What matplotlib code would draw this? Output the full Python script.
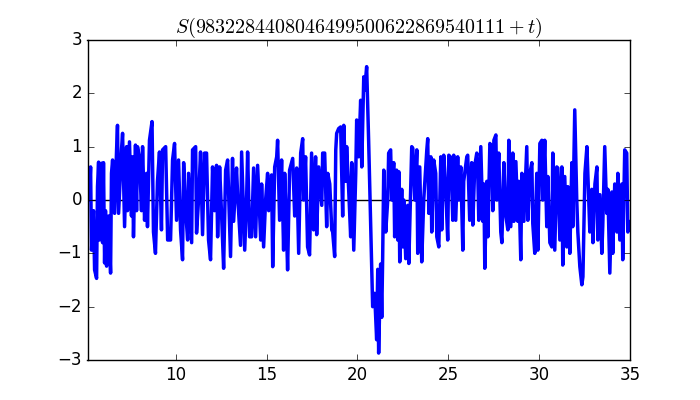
import matplotlib
matplotlib.use("Agg")
import matplotlib.pyplot as plt

plt.style.use("classic")

title = r"$S(9832284408046499500622869540111+t)$"

# values (t, S)
t_vals = [5.2, 5.26, 5.32, 5.37, 5.48, 5.54, 5.65, 5.7, 5.76, 5.81, 5.92, 5.98, 6.03, 6.09, 6.14, 6.2,
          6.31, 6.42, 6.47, 6.53, 6.64, 6.75, 6.8, 6.86, 7.02, 7.08, 7.19, 7.3, 7.35, 7.46, 7.57, 7.63,
          7.68, 7.79, 7.85, 7.9, 8.01, 8.12, 8.18, 8.29, 8.4, 8.45, 8.56, 8.7, 8.78, 8.89, 9.0, 9.11,
          9.22, 9.28, 9.45, 9.56, 9.72, 9.83, 9.94, 10.05, 10.16, 10.27, 10.38, 10.44, 10.55, 10.66,
          10.71, 10.88, 10.93, 11.1, 11.15, 11.26, 11.37, 11.48, 11.59, 11.7, 11.81, 11.92, 12.03,
          12.14, 12.25, 12.31, 12.42, 12.53, 12.64, 12.75, 12.86, 13.02, 13.13, 13.19, 13.35, 13.41,
          13.57, 13.63, 13.8, 13.91, 13.96, 14.07, 14.18, 14.29, 14.4, 14.51, 14.68, 14.73, 14.84,
          14.95, 15.06, 15.12, 15.28, 15.34, 15.45, 15.56, 15.61, 15.72, 15.83, 15.94, 16.0, 16.11,
          16.16, 16.27, 16.44, 16.55, 16.66, 16.77, 16.88, 16.99, 17.04, 17.15, 17.26, 17.37, 17.48,
          17.59, 17.7, 17.76, 17.87, 18.04, 18.09, 18.2, 18.31, 18.37, 18.48, 18.59, 18.64, 18.75,
          18.81, 18.86, 18.97, 19.08, 19.19, 19.25, 19.36, 19.41, 19.52, 19.63, 19.69, 19.8, 19.91,
          19.96, 20.07, 20.18, 20.24, 20.35, 20.4, 20.51, 20.62, 20.84, 20.95, 21.06, 21.12, 21.17,
          21.28, 21.34, 21.39, 21.45, 21.56, 21.67, 21.72, 21.83, 21.89, 22.0, 22.05, 22.16, 22.22,
          22.28, 22.33, 22.44, 22.5, 22.55, 22.66, 22.77, 22.83, 22.99, 23.05, 23.16, 23.27, 23.32,
          23.43, 23.54, 23.65, 23.82, 23.87, 23.93, 24.04, 24.09, 24.2, 24.31, 24.37, 24.48, 24.59,
          24.64, 24.75, 24.86, 24.97, 25.03, 25.14, 25.25, 25.3, 25.41, 25.52, 25.58, 25.69, 25.8,
          25.85, 26.02, 26.07, 26.18, 26.29, 26.35, 26.46, 26.57, 26.63, 26.68, 26.79, 26.9, 26.96,
          27.01, 27.12, 27.18, 27.29, 27.4, 27.45, 27.51, 27.62, 27.67, 27.78, 27.89, 27.95, 28.06,
          28.17, 28.28, 28.33, 28.44, 28.55, 28.61, 28.72, 28.83, 28.88, 28.99, 29.05, 29.16, 29.27,
          29.32, 29.38, 29.49, 29.6, 29.65, 29.76, 29.87, 29.93, 30.04, 30.15, 30.2, 30.31, 30.42,
          30.48, 30.59, 30.7, 30.75, 30.86, 30.97, 31.03, 31.14, 31.25, 31.3, 31.41, 31.52, 31.58,
          31.69, 31.8, 31.85, 31.96, 32.07, 32.13, 32.24, 32.35, 32.41, 32.52, 32.63, 32.79, 32.9,
          32.96, 33.07, 33.18, 33.23, 33.34, 33.45, 33.5, 33.61, 33.72, 33.78, 33.89, 34.0, 34.05,
          34.16, 34.28, 34.33, 34.44, 34.55, 34.6, 34.71, 34.82, 34.88, 34.93, 35.0]
s_vals = [0.0, 0.15, 0.62, -0.94, -0.2, -1.31, -1.47, 0.25, 0.71, -0.75, 0.69, -0.8, 0.7, -1.18, -0.2, -1.24,
          -0.3, -1.37, 0.5, 0.75, -0.25, 0.94, 1.4, -0.25, 0.94, 1.25, -0.5, 1.0, -0.2, 1.09, -0.3, 0.81,
          -0.69, 1.03, -0.2, 1.0, 0.8, -0.2, 1.0, -0.38, 0.5, -0.5, 1.12, 1.47, -0.6, -1.0, 0.35, 0.9,
          -0.56, 0.94, 1.0, -0.75, -0.75, 0.75, 1.06, -0.38, 0.75, -0.56, -1.12, 0.7, -0.2, -0.75,
          0.5, -0.8, 0.94, 1.0, -0.62, 0.0, 0.9, -0.65, 0.88, 0.88, -0.75, -1.12, 0.62,
          -0.2, 0.65, -0.69, 0.62, -0.3, -1.28, 0.56, 0.75, -1.06, 0.78, -0.4, 0.6, 0.1,
          -0.85, 0.9, -0.94, 0.1, 0.9, -0.69, -0.69, 0.6, -0.69, 0.65, -0.75, 0.3, -0.88,
          0.0, 0.5, -0.2, 0.47, -1.25, 0.62, 0.81, 1.12, -0.38, 0.75, -0.94, 0.5, -0.69,
          -1.31, 0.56, 0.78, -0.3, 0.6, -1.0, 0.88, 1.15, 0.0, 0.81, -0.88, -1.03, 0.88,
          -0.56, 0.81, -0.65, 0.62, -0.1, 0.88, 0.88, -0.5, 0.5, 0.3, -0.56, -0.6, -1.06,
          0.94, 1.25, 1.34, 1.37, -0.3, 1.4, 0.35, 1.0, 0.2, -0.69, 0.7, -0.94, 0.5,
          1.5, 0.81, 1.87, 0.62, 2.31, 2.06, 2.5, 1.1, -2.0, -1.75, -2.62, -1.3, -2.87,
          -1.2, -2.2, -1.1, 0.56, -0.6, 0.0, 0.88, 0.94, 0.0, 0.7, -0.69, 0.56, -0.75,
          0.53, -1.16, 0.2, -0.88, 0.0, -1.1, -0.1, -1.19, 1.0, 0.97, 0.0, 0.94, -1.0,
          0.62, -1.16, 0.0, 0.94, 1.15, -0.25, 0.81, -0.6, 0.75, 0.5, -0.69, -0.88, 0.81,
          -0.56, 0.84, 0.2, -0.75, 0.84, 0.8, -0.38, 0.84, -0.38, 0.81, 0.0, 0.62, -0.94,
          0.35, 0.81, 0.84, -0.38, 0.7, -0.47, 0.65, 0.88, 0.4, -0.38, 1.0, -0.4, 0.3,
          -1.28, 0.35, -0.69, 1.06, 1.0, -0.2, 1.12, 1.22, 0.0, 0.88, -0.6, -0.8, 0.7,
          -0.3, -0.56, 1.12, -0.5, 0.88, -0.4, 0.72, -0.4, 0.35, -1.12, 0.5, -0.4, 0.56,
          1.0, -0.38, 0.5, 0.7, -0.44, -1.0, 0.5, -0.94, 1.06, 1.12, 0.0, 1.12, -0.5,
          0.44, -0.8, -0.88, 0.88, -0.94, 0.62, 0.6, -0.75, 0.62, -1.22, 0.44, -0.88, 0.25,
          -1.0, 0.7, -0.5, 1.69, 0.0, -0.6, -1.25, -1.59, -1.44, 0.5, 1.0, -0.6, 0.2,
          -0.8, 0.3, 0.62, -0.75, 0.1, -1.0, -0.5, 1.0, -0.25, 0.2, -1.37, 0.15, -1.0,
          0.3, -0.6, 0.5, -0.75, 0.3, -1.12, 0.94, 0.88, -0.6, -0.4, -0.5]

fig = plt.figure(figsize=(7, 4), dpi=100)
ax = fig.add_subplot(111)
ax.axhline(0, color="k", lw=1, zorder=1)
ax.plot(t_vals, s_vals, "b", lw=2.5, zorder=2)
ax.set_xlim(5.15, 35)
ax.set_ylim(-3, 3)
ax.set_title(title)

fig.savefig("out.png", dpi=100)
